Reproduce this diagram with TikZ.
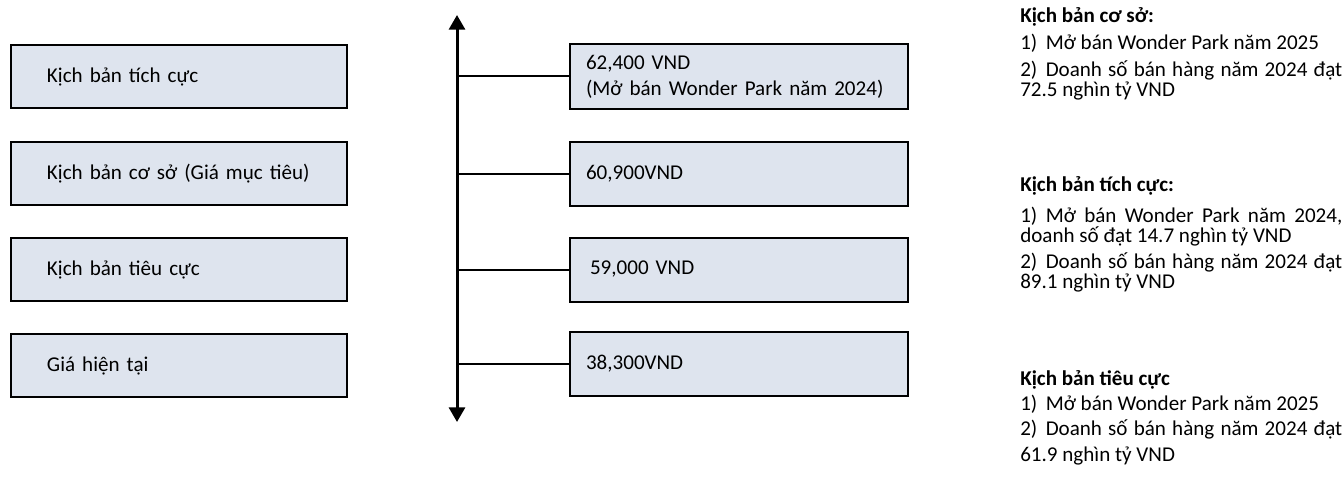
\documentclass[tikz,border=0pt]{standalone}
\usepackage{fontspec}
\setmainfont{Carlito}
\usetikzlibrary{arrows.meta}

\definecolor{boxfill}{RGB}{222,228,238}
\newcommand{\boxfont}{\fontsize{15.8}{19.5}\selectfont}
\newcommand{\notefont}{\fontsize{15.8}{15}\selectfont}

\tikzset{
    scenbox/.style={draw, line width=1.5pt, fill=boxfill, minimum height=47.25pt, text width=244pt, inner xsep=4pt, align=left, font=\boxfont, execute at begin node={\hspace*{23pt}}},
    pricebox/.style={draw, line width=1.5pt, fill=boxfill, minimum height=48pt, text width=229.5pt, inner xsep=12pt, align=left, font=\boxfont},
    note/.style={anchor=west, inner sep=0pt, text width=241.5pt, align=justify, font=\notefont},
    notewide/.style={note, font=\boxfont},
    notehead/.style={note, font=\notefont\bfseries},
}

\begin{document}
\begin{tikzpicture}[x=0.75pt, y=-0.75pt]
        \useasboundingbox (0,0) rectangle (1344,478);
        % scenarios
        \node[scenbox] (S1) at (179, 76.5) {Kịch bản tích cực};
        \node[scenbox] (S2) at (179, 173.5) {Kịch bản cơ sở (Giá mục tiêu)};
        \node[scenbox] (S3) at (179, 269.5) {Kịch bản tiêu cực};
        \node[scenbox] (S4) at (179, 365.5) {Giá hiện tại};
        % price axis
        \coordinate (T) at (457, 15);
        \coordinate (B) at (457, 422);
        \draw[line width=2.25pt, {Triangle[width=12pt,length=11pt]}-{Triangle[width=12pt,length=11pt]}] (T) -- (B);
        \node[pricebox] (P1) at (739, 76.5) {62,400 VND\\(Mở bán Wonder Park năm 2024)};
        \node[pricebox] (P2) at (739, 173.5) {60,900VND};
        \node[pricebox] (P3) at (739, 269.5) {\hspace*{3pt}59,000 VND};
        \node[pricebox] (P4) at (739, 364) {38,300VND};
        \draw[line width=1.5pt] (P1.west) -- (P1.west -| T);
        \draw[line width=1.5pt] (P2.west) -- (P2.west -| T);
        \draw[line width=1.5pt] (P3.west) -- (P3.west -| T);
        \draw[line width=1.5pt] (P4.west) -- (P4.west -| T);
        % notes
        \node[notehead] (H1) at (1020, 17) {Kịch bản cơ sở:};
        \node[note] (N1) at (1020, 43) {1)\hspace{0.4em}Mở bán Wonder Park năm 2025};
        \node[note] (N2) at (1020, 80) {2)\hspace{0.4em}Doanh số bán hàng năm 2024 đạt\linebreak 72.5 nghìn tỷ VND};
        \node[notehead] (H2) at (1020, 186) {Kịch bản tích cực:};
        \node[note] (N3) at (1020, 227) {1)\hspace{0.4em}Mở bán Wonder Park năm 2024,\linebreak doanh số đạt 14.7 nghìn tỷ VND};
        \node[note] (N4) at (1020, 272) {2)\hspace{0.4em}Doanh số bán hàng năm 2024 đạt\linebreak 89.1 nghìn tỷ VND};
        \node[notehead] (H3) at (1020, 380) {Kịch bản tiêu cực};
        \node[note] (N5) at (1020, 404) {1)\hspace{0.4em}Mở bán Wonder Park năm 2025};
        \node[notewide] (N6) at (1020, 442) {2)\hspace{0.4em}Doanh số bán hàng năm 2024 đạt\linebreak 61.9 nghìn tỷ VND};
    \end{tikzpicture}
\end{document}
